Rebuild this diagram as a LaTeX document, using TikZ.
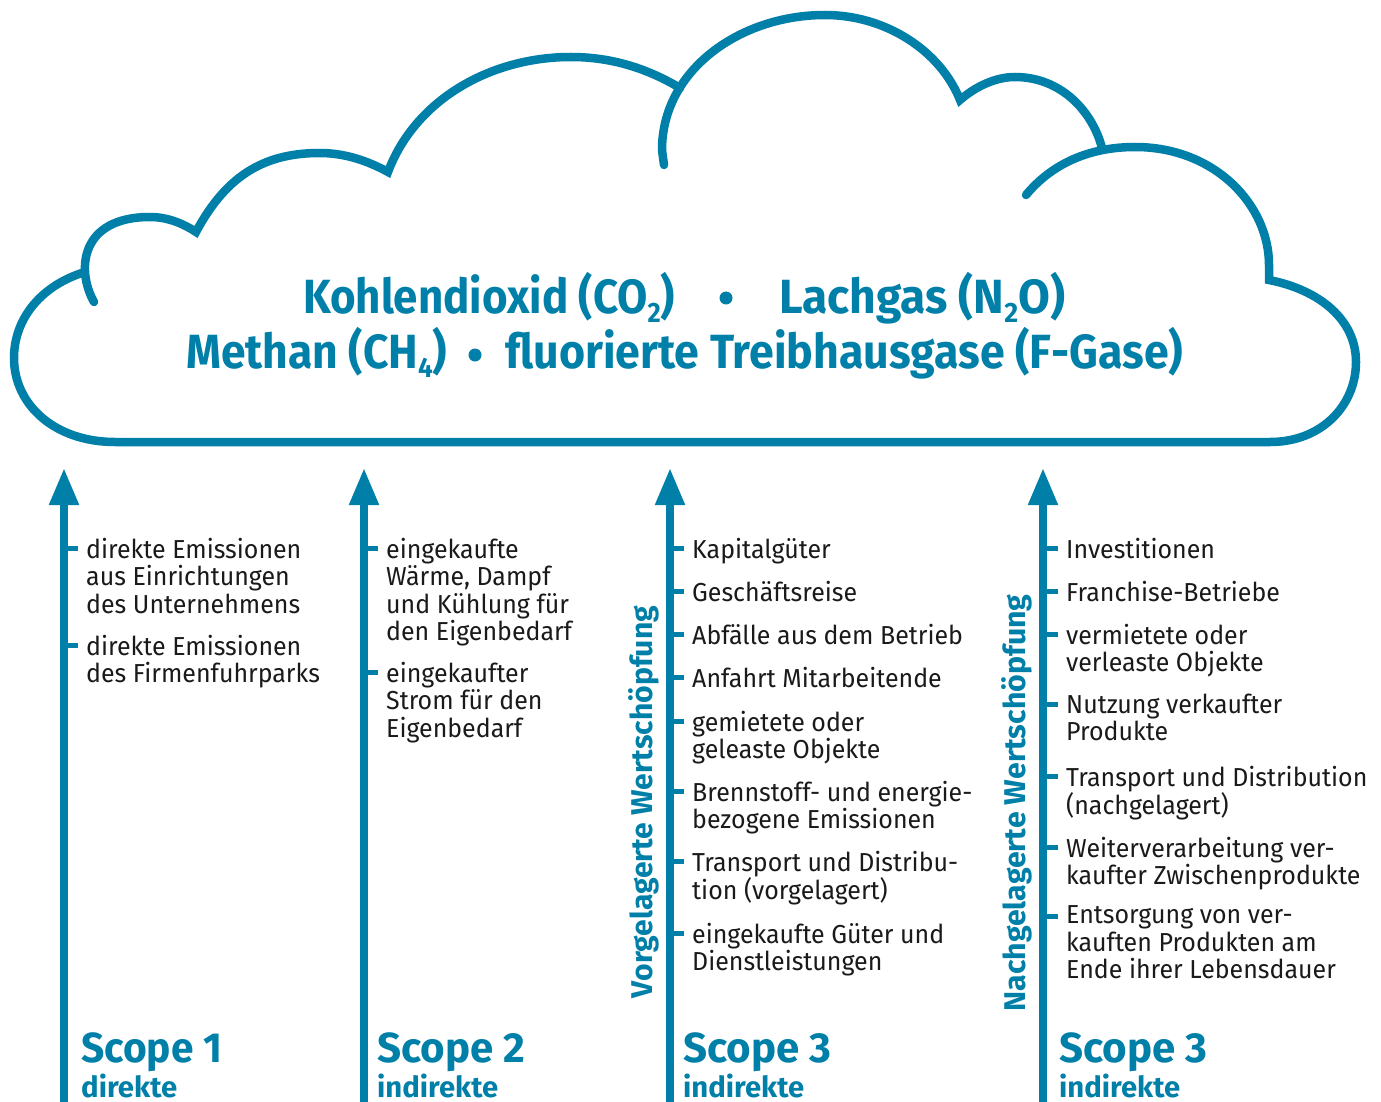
\documentclass[tikz,border=0pt]{standalone}
\usepackage{fontspec}
\setmainfont{Fira Sans}
\newfontfamily\bodyfont[FakeStretch=0.96]{Fira Sans}
\usepackage{graphicx}
\usetikzlibrary{arrows.meta}
\definecolor{teal1}{RGB}{0,128,168}
\definecolor{ink}{RGB}{26,26,26}
\newcommand\chemsub[1]{\raisebox{-0.2em}{\fontsize{28}{28}\selectfont #1}}
\newcommand\fitw[2]{\resizebox{#1}{\height}{#2}}
\newcommand\entry[5]{%
  \node[entry] (#1) at (#3,#4) {#5};
  \draw[tickmark] (#2,#4-8.5) -- (#3-8,#4-8.5);}
\begin{document}
\begin{tikzpicture}[x=1pt,y=-1pt,
  cloudline/.style={draw=teal1, line width=8.5pt, line cap=round},
  shaft/.style={draw=teal1, line width=8pt, -{Triangle[length=37pt,width=28pt]}},
  tickmark/.style={draw=teal1, line width=5pt},
  entry/.style={anchor=north west, inner sep=0pt, align=left, text=ink,
     font=\bodyfont\fontsize{26}{27.4}\selectfont, yshift=19.18pt, execute at begin node=\strut},
  titletext/.style={anchor=base west, inner sep=0pt, text=teal1, font=\fontsize{48}{48}\selectfont\bfseries},
  scopebig/.style={anchor=base west, inner sep=0pt, text=teal1, font=\fontsize{42}{42}\selectfont\bfseries},
  scopesmall/.style={anchor=base west, inner sep=0pt, text=teal1, font=\fontsize{29}{29}\selectfont\bfseries},
  vlabel/.style={rotate=90, anchor=base, inner sep=0pt, text=teal1, font=\fontsize{30}{30}\selectfont\bfseries}]
\useasboundingbox (0,0) rectangle (1381,1102);
\fill[white] (0,0) rectangle (1381,1102);

% cloud
\draw[cloudline] (94,302) .. controls (76,270) and (80,217) .. (150,217)
  .. controls (168,217) and (184,224) .. (196,232)
  .. controls (228,172) and (268,153) .. (320,153)
  .. controls (345,153) and (368,161) .. (388,172)
  .. controls (415,100) and (490,57) .. (571,57)
  .. controls (614,57) and (650,70) .. (680,88);
\draw[cloudline] (664,165) -- (662,150)
  .. controls (662,70) and (740,15) .. (825,15)
  .. controls (885,15) and (940,50) .. (960,100)
  .. controls (975,87) and (995,77) .. (1015,77)
  .. controls (1060,77) and (1092,110) .. (1102,148);
\draw[cloudline] (1026,195) .. controls (1055,160) and (1095,147) .. (1135,147)
  .. controls (1215,147) and (1269,205) .. (1269,265) -- (1269,280)
  .. controls (1320,290) and (1356,320) .. (1356,362)
  .. controls (1356,405) and (1322,442) .. (1270,442) -- (115,442)
  .. controls (55,442) and (14,405) .. (14,358)
  .. controls (14,318) and (42,285) .. (85,272);

% title
\node[titletext] (t1) at (303,313) {\fitw{372pt}{Kohlendioxid (CO\chemsub{2})}};
\node[titletext] (t2) at (779,313) {\fitw{286pt}{Lachgas (N\chemsub{2}O)}};
\node[titletext] (t3) at (186,368) {\fitw{261pt}{Methan (CH\chemsub{4})}};
\node[titletext] (t4) at (505,368) {\fitw{678pt}{fluorierte Treibhausgase (F-Gase)}};
\fill[teal1] (726,298) circle (6.5pt);
\fill[teal1] (475,355) circle (6.5pt);

% arrows
\coordinate (a1b) at (64,1110); \coordinate (a1t) at (64,468);
\coordinate (a2b) at (364,1110); \coordinate (a2t) at (364,468);
\coordinate (a3b) at (670,1110); \coordinate (a3t) at (670,468);
\coordinate (a4b) at (1043,1110); \coordinate (a4t) at (1043,468);
\draw[shaft] (a1b) -- (a1t);
\draw[shaft] (a2b) -- (a2t);
\draw[shaft] (a3b) -- (a3t);
\draw[shaft] (a4b) -- (a4t);

% column 1
\entry{e11}{64}{86}{557}{direkte Emissionen\\aus Einrichtungen\\des Unternehmens}
\entry{e12}{64}{86}{654}{direkte Emissionen\\des Firmenfuhrparks}
% column 2
\entry{e21}{364}{386}{557}{eingekaufte\\Wärme, Dampf\\und Kühlung für\\den Eigenbedarf}
\entry{e22}{364}{386}{681}{eingekaufter\\Strom für den\\Eigenbedarf}
% column 3
\entry{e31}{670}{692}{557}{Kapitalgüter}
\entry{e32}{670}{692}{600}{Geschäftsreise}
\entry{e33}{670}{692}{643}{Abfälle aus dem Betrieb}
\entry{e34}{670}{692}{686}{Anfahrt Mitarbeitende}
\entry{e35}{670}{692}{730}{gemietete oder\\geleaste Objekte}
\entry{e36}{670}{692}{800}{Brennstoff- und energie-\\bezogene Emissionen}
\entry{e37}{670}{692}{870}{Transport und Distribu-\\tion (vorgelagert)}
\entry{e38}{670}{692}{942}{eingekaufte Güter und\\Dienstleistungen}
% column 4
\entry{e41}{1043}{1066}{557}{Investitionen}
\entry{e42}{1043}{1066}{600}{Franchise-Betriebe}
\entry{e43}{1043}{1066}{643}{vermietete oder\\verleaste Objekte}
\entry{e44}{1043}{1066}{713}{Nutzung verkaufter\\Produkte}
\entry{e45}{1043}{1066}{785}{Transport und Distribution\\(nachgelagert)}
\entry{e46}{1043}{1066}{856}{Weiterverarbeitung ver-\\kaufter Zwischenprodukte}
\entry{e47}{1043}{1066}{925}{Entsorgung von ver-\\kauften Produkten am\\Ende ihrer Lebensdauer}

% vertical labels
\node[vlabel] (vl) at (652,802) {\fitw{392pt}{Vorgelagerte Wertschöpfung}};
\node[vlabel] (nl) at (1025,803) {\fitw{417pt}{Nachgelagerte Wertschöpfung}};

% scope labels
\node[scopebig] (s1) at (81,1062) {\fitw{141pt}{Scope 1}};
\node[scopesmall] (s1b) at (81,1097) {\fitw{96pt}{direkte}};
\node[scopebig] (s2) at (377,1062) {\fitw{148pt}{Scope 2}};
\node[scopesmall] (s2b) at (377,1097) {\fitw{121pt}{indirekte}};
\node[scopebig] (s3) at (683,1062) {\fitw{148pt}{Scope 3}};
\node[scopesmall] (s3b) at (683,1097) {\fitw{121pt}{indirekte}};
\node[scopebig] (s4) at (1059,1062) {\fitw{148pt}{Scope 3}};
\node[scopesmall] (s4b) at (1059,1097) {\fitw{121pt}{indirekte}};
\end{tikzpicture}
\end{document}
